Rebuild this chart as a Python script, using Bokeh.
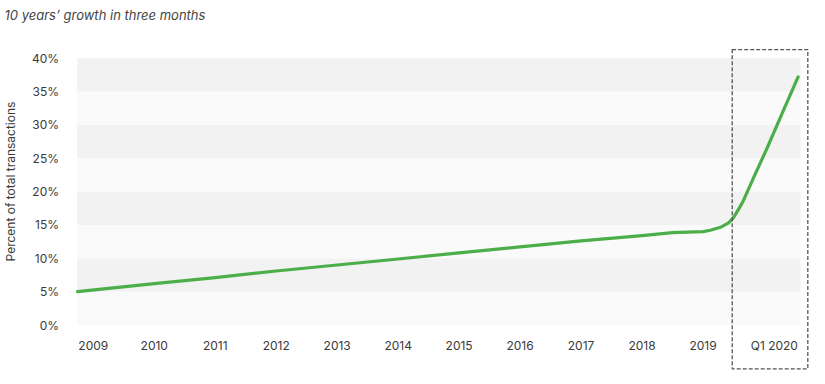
import math
from bokeh.plotting import figure
from bokeh.models import FixedTicker, PrintfTickFormatter, BoxAnnotation
from bokeh.core.properties import value
from bokeh.embed import file_html
from bokeh.resources import INLINE

# ---- data ----
tick_pos = [2009, 2010, 2011, 2012, 2013, 2014, 2015, 2016, 2017, 2018, 2019, 2020.17]
tick_labels = ["2009", "2010", "2011", "2012", "2013", "2014", "2015", "2016",
               "2017", "2018", "2019", "Q1 2020"]
x_vals = [2008.74, 2010, 2011, 2012, 2013, 2014, 2015, 2016, 2017, 2018, 2018.5,
          2019, 2019.12, 2019.3, 2019.42, 2019.5, 2019.58, 2019.66, 2019.83,
          2020.05, 2020.33, 2020.56]
share_pct = [5.0, 6.2, 7.1, 8.1, 9.0, 9.9, 10.8, 11.7, 12.6, 13.4, 13.85,
             14.0, 14.2, 14.7, 15.3, 16.1, 17.3, 18.6, 22.1, 26.5, 32.4, 37.2]
y_ticks = [0, 5, 10, 15, 20, 25, 30, 35, 40]
band_lo = [0, 5, 10, 15, 20, 25, 30, 35]
band_hi = [5, 10, 15, 20, 25, 30, 35, 40]
band_colors = ["#fafafa", "#f2f2f2", "#fafafa", "#f2f2f2",
               "#fafafa", "#f2f2f2", "#fafafa", "#f2f2f2"]
title_text = "10 years\u2019 growth in three months"
y_title = "Percent of total transactions"

FONT = "Inter"
W, H = 825, 384
X0, X1 = 2008.733, 2020.60        # plotting band extent
HL = dict(left=2019.479, right=2020.719, bottom=-6.57, top=41.3)  # highlight box

p = figure(width=W, height=H, output_backend="svg", toolbar_location=None,
           x_range=(2007.478, 2021.009), y_range=(-8.92, 48.65),
           min_border=0, min_border_left=0, min_border_right=0,
           min_border_top=0, min_border_bottom=0)
p.background_fill_color = "white"
p.border_fill_color = "white"
p.outline_line_color = None
p.grid.visible = False

# alternating bands
p.quad(left=X0, right=X1, bottom=band_lo, top=band_hi, fill_color=band_colors,
       line_color=None)

p.line(x_vals, share_pct, line_color="#4cae48", line_width=3.2,
       line_cap="round", line_join="round")

# dashed highlight box
p.add_layout(BoxAnnotation(**HL, fill_alpha=0, line_color="#555555",
                           line_alpha=1.0, line_width=1.3, line_dash="4 2"))

# axes (fixed inside the full-size frame)
xa = p.xaxis[0]
xa.fixed_location = 0
xa.ticker = FixedTicker(ticks=tick_pos)
xa.major_label_overrides = {k: v for k, v in zip(tick_pos, tick_labels)}
ya = p.yaxis[0]
ya.fixed_location = X0
ya.ticker = FixedTicker(ticks=y_ticks)
ya.formatter = PrintfTickFormatter(format="%d%%")
for ax in (xa, ya):
    ax.axis_line_color = None
    ax.major_tick_line_color = None
    ax.minor_tick_line_color = None
    ax.major_tick_out = 0
    ax.major_tick_in = 0
    ax.major_label_text_font = FONT
    ax.major_label_text_font_size = "12px"
    ax.major_label_text_color = "#3a3a3a"
xa.major_label_standoff = 13
ya.major_label_standoff = 18

# y-axis title and chart subtitle
p.text(x=[2007.639], y=[21.51], text=[y_title], angle=math.pi / 2,
       text_font=value(FONT), text_font_size="12px", text_color="#3a3a3a",
       text_align="center", text_baseline="middle")
p.text(x=[2007.544], y=[46.51], text=[title_text], text_font=value(FONT),
       text_font_size="13px", text_font_style="italic", text_color="#444444",
       text_align="left", text_baseline="alphabetic")

open("out.html", "w").write(file_html(p, INLINE))
